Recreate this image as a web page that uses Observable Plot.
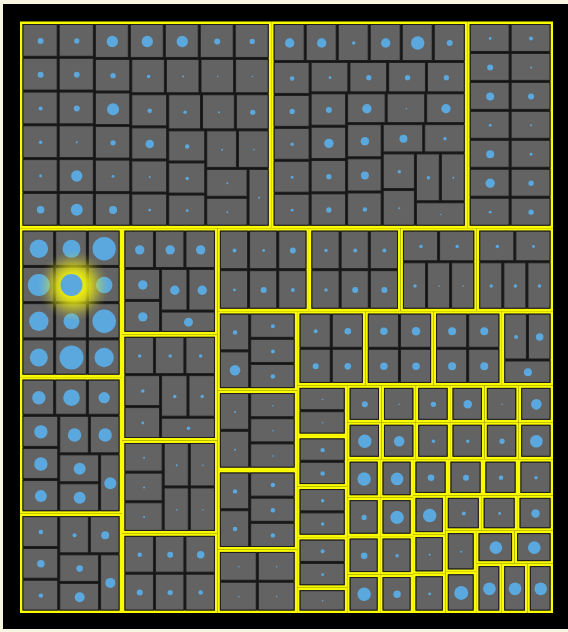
<!DOCTYPE html>
<html>
<head>
<meta charset="utf-8">
<script src="https://cdn.jsdelivr.net/npm/d3@7"></script>
<script src="https://cdn.jsdelivr.net/npm/@observablehq/plot@0.6"></script>
<style>
  html, body { margin: 0; padding: 0; background: #f8f6e2; }
</style>
</head>
<body>
<div id="chart"></div>
<script>
// ---- DATA -------------------------------------------------------------
// One list per group (yellow frame); one score per item (grey cell).
// The score drives the blue circle (area ~ score).
const circleScores = [
  [9,9,4,3,2,14, 7,8,9,1,32,36, 32,32,32,9,7, 7,36,7,2,16, 3,1,0.6,0.6, 5,18,1,2, 3,1,7, 5,3,2, 1,0.6, 1,1, 1],
  [22,22,3,22,45,9, 5,7,3,2,2, 2,7,7,7, 9,22,7,7, 22,0.6,22, 18,16,5, 16,3, 3,1, 3,1, 0.6],
  [2,4, 9,1, 16,9, 2,1, 16,2, 22,2, 7,7],
  [86,81,137, 121,121,69, 94,81, 64,137, 144, 94],
  [45,69,32, 45,45,36, 45,45, 36,36, 36],
  [5,14,5, 4,16, 11,25, 25],
  [22,22,22, 22,22, 22,22, 20],
  [3,3,3, 3,2, 3,3, 3],
  [1,1,1, 1,0.6, 0.6, 0.6],
  [5,9, 9,14, 7, 5],
  [4,2, 2,9, 9, 4],
  [3,3, 4,4, 9, 9],
  [3,3, 3, 0.6, 0.6],
  [3,2, 3, 3, 3],
  [5,28, 4, 4, 5],
  [1,1, 0.6, 0.6, 0.6],
  [5,5, 5, 5, 5],
  [0.6,0.6, 0.6, 0.6],
  [4,11, 9, 11],
  [14,18, 14, 14],
  [16,16, 16, 16],
  [4,14, 16],
  [0.6,0.6], [5,5], [3,3], [4,2], [0.6],
  [9],[0.6],[7],[18],[0.6],[28],
  [45],[28],[3],[3],[7],[40],
  [45],[7],[11],[45],
  [40],[45],[3],[14],
  [11],[9],[5],[3],
  [45],[1],[2],
  [4],[2],[18],
  [1],[49],
  [40],[40],
  [40],[40],[40]
];
// how the groups are banded at the top level (number of groups, orientation)
const bandSizes = [3,3,4,4,4,4,5,6,6,4,4,4,3,3,2,2,1,1,1];
const bandDirs  = ["row","col","col","row","col","row","col","row","row","col","col","row","col","row","col","row","col","col","col"];
// highlighted item (group index, item index)
const highlight = {group: 3, item: 4};

// ---- LAYOUT -----------------------------------------------------------
const squarify = d3.treemapSquarify.ratio(1);
function tile(node, x0, y0, x1, y1) {
  if (node.depth > 0) return squarify(node, x0, y0, x1, y1);
  let i = 0, value = node.value;
  bandSizes.forEach((n, b) => {
    const children = node.children.slice(i, i + n);
    const s = d3.sum(children, c => c.value);
    const row = {children, value: s};
    if (bandDirs[b] === "row") {
      const y = value ? y0 + (y1 - y0) * s / value : y1;
      d3.treemapDice(row, x0, y0, x1, y); y0 = y;
    } else {
      const x = value ? x0 + (x1 - x0) * s / value : x1;
      d3.treemapSlice(row, x0, y0, x, y1); x0 = x;
    }
    value -= s; i += n;
  });
}

const root = d3.hierarchy({children: circleScores.map(g => ({children: g.map(v => ({v}))}))})
  .count();
d3.treemap()
  .tile(tile)
  .size([533, 591.5])
  .paddingInner(d => d.depth === 1 ? 1 : 0)
  .paddingOuter(d => d.depth === 1 ? 2.5 : 0)(root);

const groups = root.children;
const cells = root.leaves();
const hl = [groups[highlight.group].children[highlight.item]];
const cx = d => (d.x0 + d.x1) / 2;
const cy = d => (d.y0 + d.y1) / 2;

const chart = Plot.plot({
  width: 568,
  height: 632,
  marginLeft: 3, marginTop: 4, marginRight: 0, marginBottom: 4,
  style: {background: "#f8f6e2"},
  x: {domain: [-17, 548], axis: null},
  y: {domain: [-17.5, 606.5], range: [4, 628], axis: null},
  r: {type: "sqrt", domain: [0, 144], range: [0, 12]},
  marks: [
    Plot.frame({fill: "#000", stroke: "#000"}),
    Plot.rect(groups, {x1: d => d.x0, x2: d => d.x1, y1: d => d.y0, y2: d => d.y1,
      fill: "#151515", stroke: "#fbfb00", strokeWidth: 2.5, inset: 1.25}),
    Plot.rect(cells, {x1: d => d.x0, x2: d => d.x1, y1: d => d.y0, y2: d => d.y1,
      fill: "#636363", stroke: "#1e1e1e", strokeWidth: 1, inset: 0.5}),
    Plot.dot(cells, {x: cx, y: cy, r: d => d.data.v, fill: "#5aa8de"}),
    Plot.dot(hl, {x: cx, y: cy, r: 36, dx: 2, dy: 1, fill: "url(#glow)"}),
    Plot.dot(hl, {x: cx, y: cy, r: d => d.data.v, fill: "#5aa8de"})
  ]
});

const svgEl = chart.tagName.toLowerCase() === "svg" ? chart : chart.querySelector("svg");
const grad = d3.select(svgEl).insert("defs", ":first-child")
  .append("radialGradient").attr("id", "glow");
[[0, 1], [0.33, 0.95], [0.45, 0.8], [0.65, 0.45], [0.8, 0.18], [0.92, 0.05], [1, 0]].forEach(([o, a]) => {
  grad.append("stop").attr("offset", o).attr("stop-color", "#ecec10").attr("stop-opacity", a);
});
document.getElementById("chart").appendChild(chart);
</script>
</body>
</html>
